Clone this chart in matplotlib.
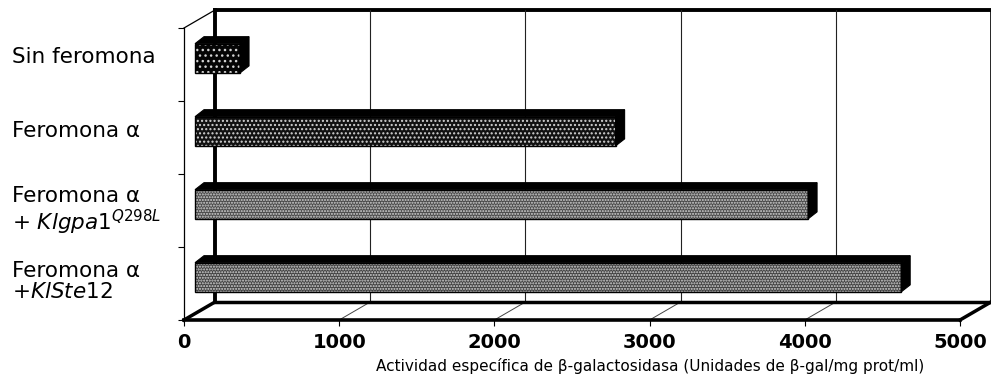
import matplotlib
matplotlib.use('Agg')
import matplotlib.pyplot as plt
from matplotlib.patches import Polygon

# data
categories = ['Sin feromona',
              'Feromona α',
              'Feromona α\n$+\\ \\mathit{Klgpa1}^{\\mathit{Q298L}}$',
              'Feromona α\n$+\\mathit{KlSte12}$']
values = [290, 2710, 3950, 4550]
xticks = [0, 1000, 2000, 3000, 4000, 5000]
xlabel = 'Actividad específica de β-galactosidasa (Unidades de β-gal/mg prot/ml)'

plt.rcParams['hatch.color'] = '#d4d4d4'
plt.rcParams['hatch.linewidth'] = 1.0

fig = plt.figure(figsize=(9.91, 3.78), dpi=100)
ax = fig.add_axes([184 / 991, 58 / 378, 776 / 991, 292 / 378])
ax.set_xlim(0, 5000)
ax.set_ylim(0, 4)

# fake 3D depth of the box (data units)
DX, DY = 200, 0.247
# bar placement inside the depth
off_x, off_y = 71, 0.085
bdx, bdy = 58, 0.096
bh = 0.40

# back wall
ax.plot([DX, DX], [DY, 4 + DY], color='black', lw=2.8, clip_on=False, zorder=1)
ax.plot([DX, 5000 + DX], [4 + DY, 4 + DY], color='black', lw=2.8, clip_on=False, zorder=1)
ax.plot([5000 + DX, 5000 + DX], [DY, 4 + DY], color='black', lw=1.2, clip_on=False, zorder=1)
for t in xticks[1:-1]:
    ax.plot([t + DX, t + DX], [DY, 4 + DY], color='#222222', lw=0.8, clip_on=False, zorder=1)
    ax.plot([t, t + DX], [0, DY], color='#444444', lw=0.7, clip_on=False, zorder=1)

# floor
ax.plot([DX, 5000 + DX], [DY, DY], color='black', lw=2.5, clip_on=False, zorder=2)
ax.plot([0, DX], [0, DY], color='black', lw=2.5, clip_on=False, zorder=2)
ax.plot([5000, 5000 + DX], [0, DY], color='black', lw=2.5, clip_on=False, zorder=2)
ax.plot([0, DX], [4, 4 + DY], color='black', lw=0.9, clip_on=False, zorder=2)

# bars, first category on top
ypos = [3.5 - i for i in range(len(categories))]
ybar = [y + off_y for y in ypos]
faces = ['#050505', '#121212', '#4a4a4a', '#424242']
hatches = ['...', '....', '......', '......']
bars = ax.barh(ybar, values, left=off_x, height=bh, linewidth=0, zorder=3)
for b, fc, h in zip(bars, faces, hatches):
    b.set_facecolor(fc)
    b.set_hatch(h)

for y, v in zip(ybar, values):
    yt, yb = y + bh / 2, y - bh / 2
    x0, x1 = off_x, off_x + v
    top = Polygon([(x0, yt), (x1, yt), (x1 + bdx, yt + bdy), (x0 + bdx, yt + bdy)],
                  closed=True, facecolor='black', edgecolor='black', lw=0.8, zorder=3)
    side = Polygon([(x1, yb), (x1 + bdx, yb + bdy), (x1 + bdx, yt + bdy), (x1, yt)],
                   closed=True, facecolor='black', edgecolor='black', lw=0.8, zorder=3)
    ax.add_patch(top)
    ax.add_patch(side)
    ax.add_patch(Polygon([(x0, yb), (x1, yb), (x1, yt), (x0, yt)], closed=True,
                         fill=False, edgecolor='black', lw=1.0, zorder=3))

# category labels
label_y = [ypos[0] + 0.10, ypos[1] + 0.09, ypos[2] - 0.01, ypos[3] + 0.03]
for lab, y in zip(categories, label_y):
    ax.text(-0.2216, y, lab, transform=ax.get_yaxis_transform(), ha='left',
            va='center', fontsize=15.5, linespacing=1.1, clip_on=False)

# axes styling
for s in ['top', 'right']:
    ax.spines[s].set_visible(False)
ax.spines['left'].set_linewidth(0.9)
ax.spines['bottom'].set_linewidth(2.6)
ax.spines['bottom'].set_zorder(4)
ax.set_xticks(xticks)
ax.set_xticklabels([str(t) for t in xticks], fontsize=14, fontweight='bold')
ax.tick_params(axis='x', length=4, width=0.8, pad=5)
ax.set_yticks([0, 1, 2, 3, 4])
ax.set_yticklabels([])
ax.tick_params(axis='y', length=4, width=0.8)

ax.set_xlabel(xlabel, fontsize=11)
ax.xaxis.label.set_verticalalignment('center')
ax.xaxis.set_label_coords((650 - 184) / 776, -(366 - 320) / 292)

fig.savefig('out.png', dpi=100)
